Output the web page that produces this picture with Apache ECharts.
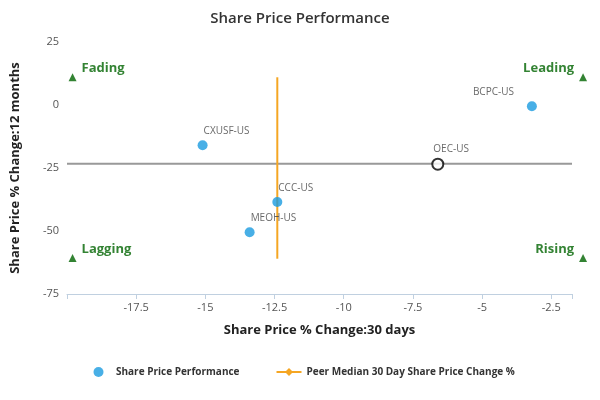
<!DOCTYPE html><html><head><meta charset="utf-8"><script src="https://cdn.jsdelivr.net/npm/echarts@6/dist/echarts.min.js"></script></head><body style="margin:0"><div id="c" style="width:600px;height:400px"></div><script>
const names=['CXUSF-US','MEOH-US','CCC-US','BCPC-US'];
const xs=[-15.1,-13.4,-12.4,-3.2];
const ys=[-16,-50.5,-38.5,-0.5];
const oec={name:'OEC-US',x:-6.6,y:-23.5};
const medX=-12.4, medY=-23.3;
const medXRange=[11,-61];
const quads=[{t:'Fading',x:-19.8,y:11,pos:'right'},{t:'Leading',x:-1.35,y:11,pos:'left'},{t:'Lagging',x:-19.8,y:-60.7,pos:'right'},{t:'Rising',x:-1.35,y:-60.7,pos:'left'}];
const xTicks=[-17.5,-15,-12.5,-10,-7.5,-5,-2.5];
const yTicks=[25,0,-25,-50,-75];
const ch=echarts.init(document.getElementById('c'));
const F='"Open Sans",sans-serif';
ch.setOption({
title:{text:'Share Price Performance',left:'center',top:6,textStyle:{fontFamily:F,fontSize:15,fontWeight:600,color:'#333'}},
legend:{top:362,left:80,width:470,itemGap:36,itemHeight:10,textStyle:{fontFamily:F,fontSize:10,fontWeight:'bold',color:'#333'},
data:[{name:'Share Price Performance',icon:'circle'},{name:'Peer Median 30 Day Share Price Change %'},{name:'Peer Median 12 Month Share Price Change %'}]},
grid:{left:67,right:28,top:42,bottom:106},
xAxis:{type:'value',min:-20,max:-1.75,interval:2.5,name:'Share Price % Change:30 days',nameLocation:'middle',nameGap:30,
nameTextStyle:{fontFamily:F,fontSize:13,fontWeight:'bold',color:'#222'},
axisLine:{onZero:false,lineStyle:{color:'#c0d0e0'}},axisTick:{show:true,lineStyle:{color:'#c0d0e0'}},splitLine:{show:false},
axisLabel:{fontFamily:F,color:'#555',fontSize:11,formatter:v=>xTicks.includes(v)?String(v):''}},
yAxis:{type:'value',min:-75,max:25,interval:25,name:'Share Price % Change:12 months',nameLocation:'middle',nameGap:45,
nameTextStyle:{fontFamily:F,fontSize:13,fontWeight:'bold',color:'#222'},
axisLine:{show:false},axisTick:{show:false},splitLine:{show:false},
axisLabel:{fontFamily:F,color:'#555',fontSize:11,formatter:v=>yTicks.includes(v)?String(v):''}},
series:[
{name:'Peer Median 12 Month Share Price Change %',type:'line',symbol:'rect',symbolSize:8,showSymbol:false,color:'#999',lineStyle:{width:2,color:'#999'},data:[[-20,medY],[-1.75,medY]],z:1},
{name:'Peer Median 30 Day Share Price Change %',type:'line',symbol:'diamond',showSymbol:false,color:'#f5a623',lineStyle:{width:2,color:'#f5a623'},data:[[medX,medXRange[0]],[medX,medXRange[1]]],z:2},
{name:'Share Price Performance',type:'scatter',symbolSize:10,color:'#1a9be0',z:5,
label:{show:true,position:[6,-14],formatter:p=>p.value[2],fontFamily:F,fontSize:10,color:'#444'},
data:xs.map((x,i)=>({value:[x,ys[i],names[i]],label:names[i]==='BCPC-US'?{position:[-54,-14]}:undefined}))},
{type:'scatter',symbolSize:11,z:6,itemStyle:{color:'#fff',borderColor:'#000',borderWidth:2},
label:{show:true,position:[2,-14],formatter:p=>p.value[2],fontFamily:F,fontSize:10,color:'#444'},
data:[[oec.x,oec.y,oec.name]]},
{type:'scatter',symbol:'triangle',symbolSize:8,clip:false,color:'#006400',z:7,
label:{show:true,formatter:p=>p.value[2],fontFamily:F,fontSize:13,fontWeight:'bold',color:'#006400',offset:[0,-9]},
data:quads.map(q=>({value:[q.x,q.y,q.t],label:{position:q.pos}}))}
]});
</script></body></html>
